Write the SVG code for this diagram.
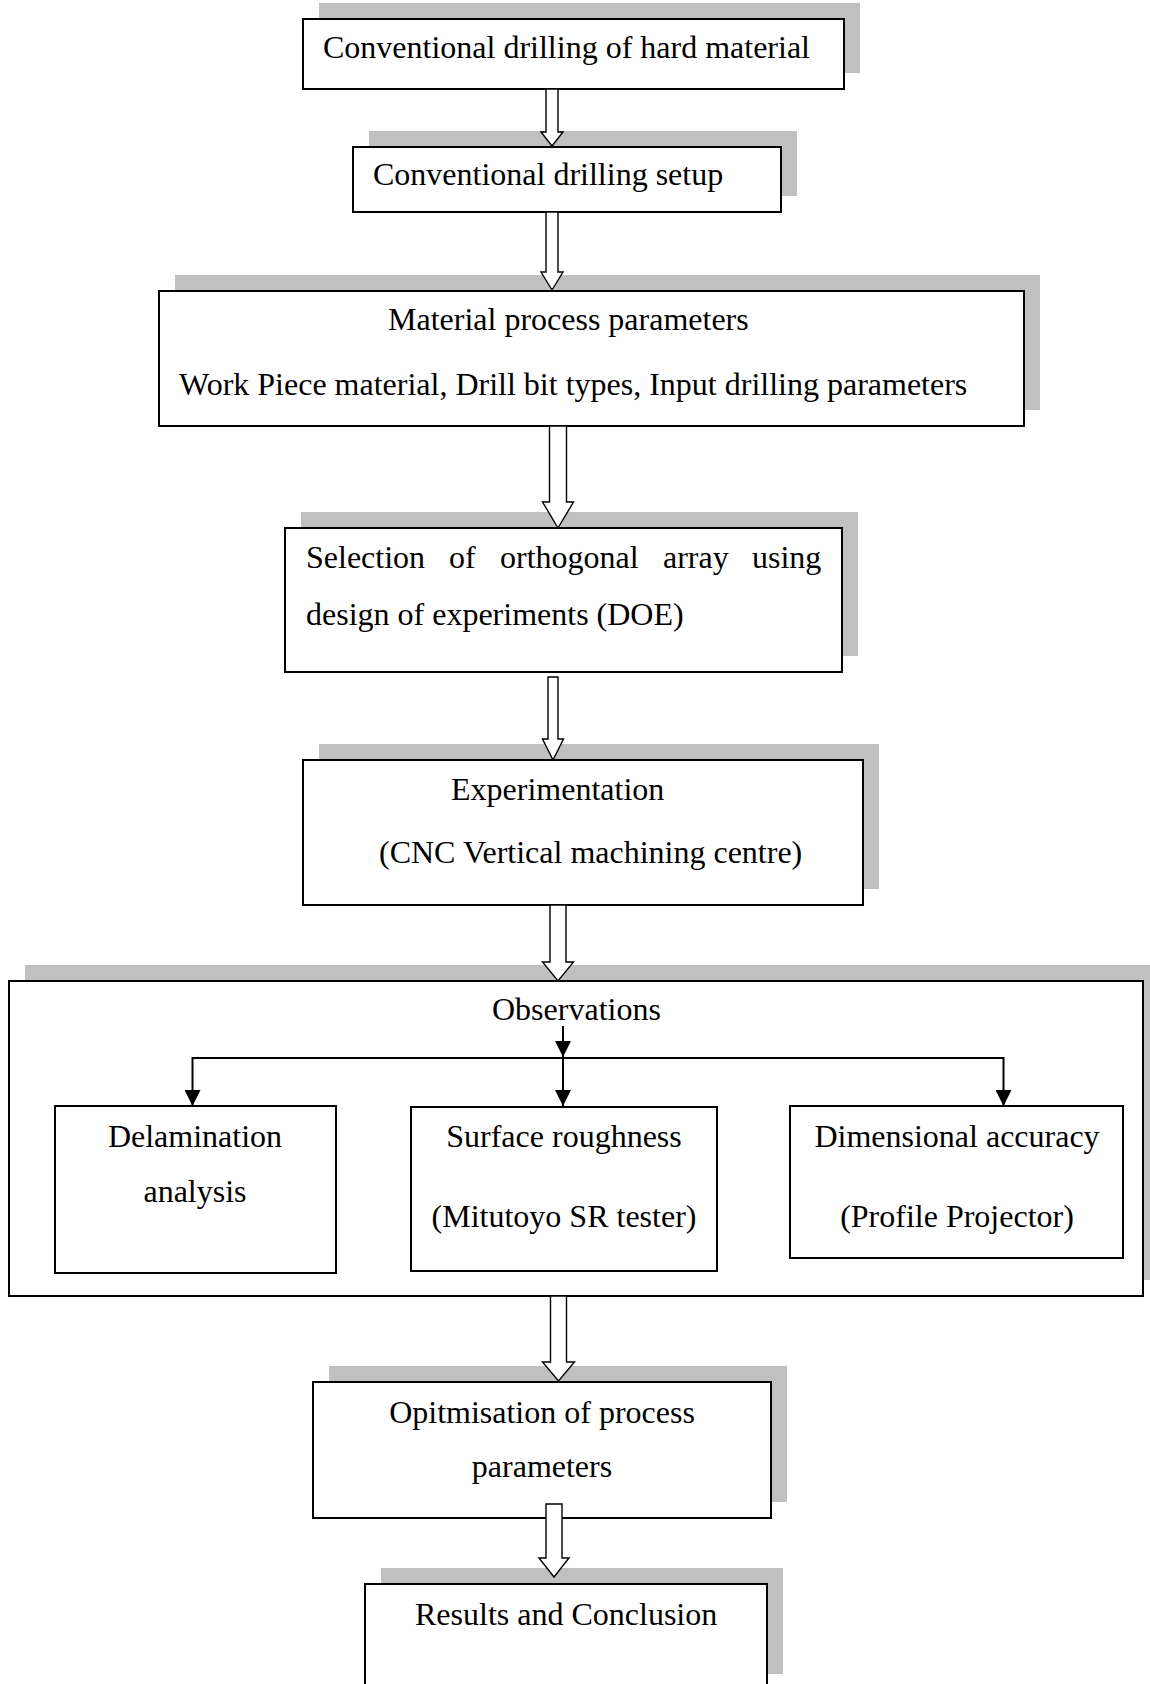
<svg xmlns="http://www.w3.org/2000/svg" width="1150" height="1684" viewBox="0 0 1150 1684">
<style>
.box{fill:#fff;stroke:#000;stroke-width:2}
.sh{fill:#c0c0c0;stroke:none}
.t{font-family:"Liberation Serif","Times New Roman",serif;font-size:32px;fill:#000}
.m{text-anchor:middle}
.blk{fill:#fff;stroke:#000;stroke-width:1.4;stroke-linejoin:miter}
.ln{stroke:#000;stroke-width:2;fill:none}
</style>
<defs>
<marker id="ah" viewBox="0 0 16 16" refX="16" refY="8" markerWidth="16" markerHeight="16" markerUnits="userSpaceOnUse" orient="auto">
<path d="M0,0 L16,8 L0,16 z" fill="#000"/>
</marker>
</defs>
<rect width="1150" height="1684" fill="#fff"/>

<g id="n1">
<rect class="sh" x="319" y="3" width="541" height="70"/>
<rect class="box" x="303" y="19" width="541" height="70"/>
<text class="t" x="323" y="58">Conventional drilling of hard material</text>
</g>

<g id="n2">
<rect class="sh" x="369" y="131" width="428" height="65"/>
<rect class="box" x="353" y="147" width="428" height="65"/>
<text class="t" x="373" y="185">Conventional drilling setup</text>
</g>

<g id="n3">
<rect class="sh" x="175" y="275" width="865" height="135"/>
<rect class="box" x="159" y="291" width="865" height="135"/>
<text class="t" x="388" y="330">Material process parameters</text>
<text class="t" x="179" y="395">Work Piece material, Drill bit types, Input drilling parameters</text>
</g>

<g id="n4">
<rect class="sh" x="301" y="512" width="557" height="144"/>
<rect class="box" x="285" y="528" width="557" height="144"/>
<text class="t" y="568"><tspan x="306">Selection</tspan><tspan x="449">of</tspan><tspan x="500">orthogonal</tspan><tspan x="663">array</tspan><tspan x="752">using</tspan></text>
<text class="t" x="306" y="625">design of experiments (DOE)</text>
</g>

<g id="n5">
<rect class="sh" x="319" y="744" width="560" height="145"/>
<rect class="box" x="303" y="760" width="560" height="145"/>
<text class="t" x="451" y="800">Experimentation</text>
<text class="t" x="379" y="863">(CNC Vertical machining centre)</text>
</g>

<g id="n6">
<rect class="sh" x="25" y="965" width="1134" height="315"/>
<rect class="box" x="9" y="981" width="1134" height="315"/>
<text class="t" x="492" y="1020">Observations</text>
</g>

<g id="n7">
<rect class="box" x="55" y="1106" width="281" height="167"/>
<text class="t m" x="195" y="1147">Delamination</text>
<text class="t m" x="195" y="1202">analysis</text>
</g>

<g id="n8">
<rect class="box" x="411" y="1107" width="306" height="164"/>
<text class="t m" x="564" y="1147">Surface roughness</text>
<text class="t m" x="564" y="1227">(Mitutoyo SR tester)</text>
</g>

<g id="n9">
<rect class="box" x="790" y="1106" width="333" height="152"/>
<text class="t m" x="957" y="1147">Dimensional accuracy</text>
<text class="t m" x="957" y="1227">(Profile Projector)</text>
</g>

<g id="n10">
<rect class="sh" x="329" y="1366" width="458" height="136"/>
<rect class="box" x="313" y="1382" width="458" height="136"/>
<text class="t m" x="542" y="1423">Opitmisation of process</text>
<text class="t m" x="542" y="1477">parameters</text>
</g>

<g id="n11">
<rect class="sh" x="381" y="1568" width="402" height="106"/>
<rect class="box" x="365" y="1584" width="402" height="110"/>
<text class="t" x="415" y="1625">Results and Conclusion</text>
</g>

<g id="connectors">
<polygon class="blk" points="546,89 558,89 558,132 563,132 552,146 541,132 546,132"/>
<polygon class="blk" points="546,212 558,212 558,272 563,272 552,290 541,272 546,272"/>
<polygon class="blk" points="549.5,426 566.5,426 566.5,502 573.5,502 558,528 542.5,502 549.5,502"/>
<polygon class="blk" points="548,677 558,677 558,739 563.5,739 553,760 542.5,739 548,739"/>
<polygon class="blk" points="550,905 566,905 566,962 573.5,962 558,981 542.5,962 550,962"/>
<polygon class="blk" points="550.5,1296 566.5,1296 566.5,1362 574.5,1362 558.5,1381 542.5,1362 550.5,1362"/>
<polygon class="blk" points="546,1504 562,1504 562,1558 569,1558 554,1577 539,1558 546,1558"/>
<line class="ln" x1="563" y1="1026" x2="563" y2="1057" marker-end="url(#ah)"/>
<line class="ln" x1="192.5" y1="1058" x2="1003.5" y2="1058"/>
<line class="ln" x1="192.5" y1="1057" x2="192.5" y2="1106" marker-end="url(#ah)"/>
<line class="ln" x1="563" y1="1057" x2="563" y2="1106" marker-end="url(#ah)"/>
<line class="ln" x1="1003.5" y1="1057" x2="1003.5" y2="1106" marker-end="url(#ah)"/>
</g>
</svg>
